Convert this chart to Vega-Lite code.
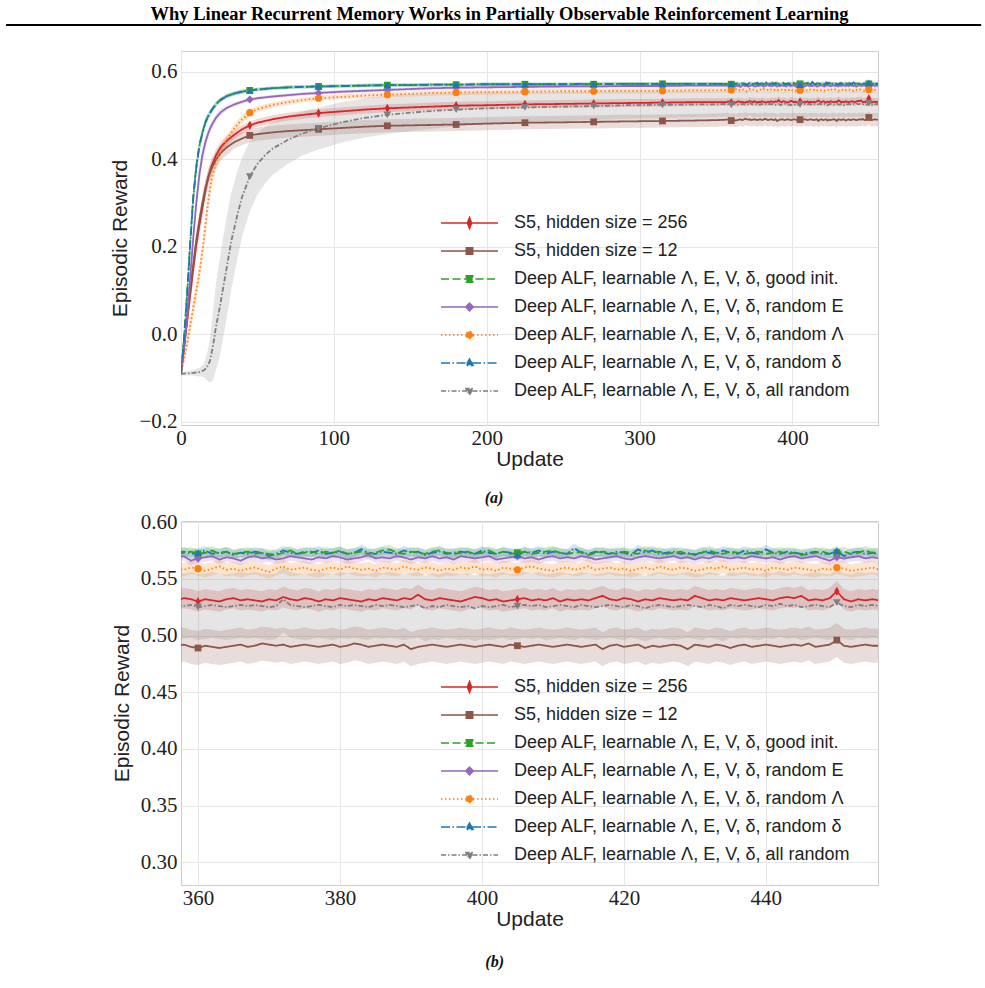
{
"$schema":"https://vega.github.io/schema/vega-lite/v6.json",
"padding":{"left":5,"top":5,"right":0,"bottom":0},
"background":"white",
"config":{
"view":{"stroke":"#cccccc","strokeWidth":1},
"axis":{"grid":true,"gridColor":"#e6e6e6","gridWidth":1,"domain":false,"ticks":false,"labelFont":"Liberation Serif","labelFontSize":21,"labelColor":"#222222","labelPadding":4,"labelFlush":false,"labelOverlap":false,"titleFont":"Liberation Sans","titleFontSize":21,"titleFontWeight":"normal","titleColor":"#222222"},
"axisX":{"titlePadding":0,"labelPadding":2},
"axisY":{"titlePadding":8},
"title":{"font":"Liberation Serif","fontSize":16,"fontStyle":"italic","fontWeight":"bold","color":"#111111"}
},
"datasets":{"d":[
{"u":0,"s":"r","m":-0.09,"e":0.004},{"u":2,"s":"r","m":-0.03,"e":0.015},{"u":4,"s":"r","m":0.03,"e":0.02},{"u":6,"s":"r","m":0.09,"e":0.025},{"u":8,"s":"r","m":0.15,"e":0.025},{"u":10,"s":"r","m":0.205,"e":0.025},{"u":12,"s":"r","m":0.25,"e":0.025},{"u":14,"s":"r","m":0.29,"e":0.022},{"u":16,"s":"r","m":0.33,"e":0.02},{"u":18,"s":"r","m":0.362,"e":0.018},{"u":20,"s":"r","m":0.385,"e":0.016},{"u":23,"s":"r","m":0.41,"e":0.014},{"u":26,"s":"r","m":0.428,"e":0.012},{"u":30,"s":"r","m":0.443,"e":0.011},{"u":35,"s":"r","m":0.457,"e":0.01},{"u":40,"s":"r","m":0.469,"e":0.01},{"u":45,"s":"r","m":0.478,"e":0.009},{"u":50,"s":"r","m":0.484,"e":0.009},{"u":60,"s":"r","m":0.492,"e":0.009},{"u":70,"s":"r","m":0.498,"e":0.009},{"u":80,"s":"r","m":0.502,"e":0.009},{"u":90,"s":"r","m":0.506,"e":0.009},{"u":105,"s":"r","m":0.51,"e":0.009},{"u":120,"s":"r","m":0.514,"e":0.009},{"u":135,"s":"r","m":0.517,"e":0.009},{"u":150,"s":"r","m":0.519,"e":0.009},{"u":165,"s":"r","m":0.521,"e":0.009},{"u":180,"s":"r","m":0.523,"e":0.009},{"u":200,"s":"r","m":0.524,"e":0.009},{"u":225,"s":"r","m":0.526,"e":0.009},{"u":250,"s":"r","m":0.527,"e":0.009},{"u":270,"s":"r","m":0.528,"e":0.009},{"u":290,"s":"r","m":0.529,"e":0.009},{"u":315,"s":"r","m":0.53,"e":0.009},{"u":335,"s":"r","m":0.531,"e":0.009},{"u":350,"s":"r","m":0.531,"e":0.009},
{"u":0,"s":"n","m":-0.09,"e":0.004},{"u":2,"s":"n","m":-0.03,"e":0.015},{"u":4,"s":"n","m":0.035,"e":0.02},{"u":6,"s":"n","m":0.1,"e":0.02},{"u":8,"s":"n","m":0.16,"e":0.02},{"u":10,"s":"n","m":0.215,"e":0.02},{"u":12,"s":"n","m":0.26,"e":0.02},{"u":14,"s":"n","m":0.3,"e":0.02},{"u":16,"s":"n","m":0.335,"e":0.02},{"u":18,"s":"n","m":0.36,"e":0.018},{"u":20,"s":"n","m":0.38,"e":0.018},{"u":23,"s":"n","m":0.4,"e":0.018},{"u":26,"s":"n","m":0.415,"e":0.018},{"u":30,"s":"n","m":0.428,"e":0.018},{"u":35,"s":"n","m":0.44,"e":0.015},{"u":40,"s":"n","m":0.448,"e":0.015},{"u":45,"s":"n","m":0.455,"e":0.015},{"u":50,"s":"n","m":0.458,"e":0.015},{"u":60,"s":"n","m":0.462,"e":0.015},{"u":70,"s":"n","m":0.465,"e":0.015},{"u":80,"s":"n","m":0.467,"e":0.015},{"u":90,"s":"n","m":0.469,"e":0.015},{"u":105,"s":"n","m":0.472,"e":0.015},{"u":120,"s":"n","m":0.475,"e":0.015},{"u":135,"s":"n","m":0.477,"e":0.015},{"u":150,"s":"n","m":0.478,"e":0.015},{"u":165,"s":"n","m":0.479,"e":0.015},{"u":180,"s":"n","m":0.48,"e":0.015},{"u":200,"s":"n","m":0.482,"e":0.015},{"u":225,"s":"n","m":0.484,"e":0.015},{"u":250,"s":"n","m":0.485,"e":0.015},{"u":270,"s":"n","m":0.486,"e":0.015},{"u":290,"s":"n","m":0.487,"e":0.015},{"u":315,"s":"n","m":0.488,"e":0.015},{"u":335,"s":"n","m":0.489,"e":0.015},{"u":350,"s":"n","m":0.49,"e":0.015},
{"u":0,"s":"g","m":-0.09,"e":0.003},{"u":2,"s":"g","m":-0.005,"e":0.015},{"u":4,"s":"g","m":0.095,"e":0.022},{"u":6,"s":"g","m":0.21,"e":0.025},{"u":8,"s":"g","m":0.315,"e":0.022},{"u":10,"s":"g","m":0.385,"e":0.018},{"u":12,"s":"g","m":0.432,"e":0.014},{"u":14,"s":"g","m":0.462,"e":0.011},{"u":16,"s":"g","m":0.486,"e":0.009},{"u":18,"s":"g","m":0.501,"e":0.008},{"u":20,"s":"g","m":0.513,"e":0.007},{"u":23,"s":"g","m":0.527,"e":0.006},{"u":26,"s":"g","m":0.537,"e":0.005},{"u":30,"s":"g","m":0.545,"e":0.005},{"u":35,"s":"g","m":0.551,"e":0.005},{"u":40,"s":"g","m":0.555,"e":0.005},{"u":45,"s":"g","m":0.558,"e":0.004},{"u":50,"s":"g","m":0.56,"e":0.004},{"u":60,"s":"g","m":0.563,"e":0.004},{"u":70,"s":"g","m":0.565,"e":0.004},{"u":80,"s":"g","m":0.566,"e":0.004},{"u":90,"s":"g","m":0.567,"e":0.004},{"u":105,"s":"g","m":0.568,"e":0.004},{"u":120,"s":"g","m":0.569,"e":0.004},{"u":135,"s":"g","m":0.57,"e":0.004},{"u":150,"s":"g","m":0.57,"e":0.004},{"u":165,"s":"g","m":0.571,"e":0.004},{"u":180,"s":"g","m":0.571,"e":0.004},{"u":200,"s":"g","m":0.572,"e":0.004},{"u":225,"s":"g","m":0.572,"e":0.004},{"u":250,"s":"g","m":0.572,"e":0.004},{"u":270,"s":"g","m":0.572,"e":0.004},{"u":290,"s":"g","m":0.573,"e":0.004},{"u":315,"s":"g","m":0.573,"e":0.004},{"u":335,"s":"g","m":0.573,"e":0.004},{"u":350,"s":"g","m":0.573,"e":0.004},
{"u":0,"s":"p","m":-0.09,"e":0.003},{"u":2,"s":"p","m":-0.03,"e":0.015},{"u":4,"s":"p","m":0.04,"e":0.022},{"u":6,"s":"p","m":0.13,"e":0.022},{"u":8,"s":"p","m":0.22,"e":0.022},{"u":10,"s":"p","m":0.3,"e":0.022},{"u":12,"s":"p","m":0.365,"e":0.022},{"u":14,"s":"p","m":0.41,"e":0.018},{"u":16,"s":"p","m":0.44,"e":0.015},{"u":18,"s":"p","m":0.462,"e":0.012},{"u":20,"s":"p","m":0.478,"e":0.01},{"u":23,"s":"p","m":0.496,"e":0.008},{"u":26,"s":"p","m":0.508,"e":0.007},{"u":30,"s":"p","m":0.518,"e":0.005},{"u":35,"s":"p","m":0.526,"e":0.005},{"u":40,"s":"p","m":0.532,"e":0.005},{"u":45,"s":"p","m":0.537,"e":0.004},{"u":50,"s":"p","m":0.54,"e":0.004},{"u":60,"s":"p","m":0.544,"e":0.004},{"u":70,"s":"p","m":0.547,"e":0.004},{"u":80,"s":"p","m":0.55,"e":0.004},{"u":90,"s":"p","m":0.552,"e":0.004},{"u":105,"s":"p","m":0.555,"e":0.004},{"u":120,"s":"p","m":0.557,"e":0.004},{"u":135,"s":"p","m":0.559,"e":0.004},{"u":150,"s":"p","m":0.561,"e":0.004},{"u":165,"s":"p","m":0.563,"e":0.004},{"u":180,"s":"p","m":0.564,"e":0.004},{"u":200,"s":"p","m":0.565,"e":0.004},{"u":225,"s":"p","m":0.566,"e":0.004},{"u":250,"s":"p","m":0.567,"e":0.004},{"u":270,"s":"p","m":0.567,"e":0.004},{"u":290,"s":"p","m":0.568,"e":0.004},{"u":315,"s":"p","m":0.568,"e":0.004},{"u":335,"s":"p","m":0.569,"e":0.004},{"u":350,"s":"p","m":0.569,"e":0.004},
{"u":0,"s":"o","m":-0.09,"e":0.003},{"u":2,"s":"o","m":-0.055,"e":0.01},{"u":4,"s":"o","m":-0.02,"e":0.02},{"u":6,"s":"o","m":0.02,"e":0.02},{"u":8,"s":"o","m":0.06,"e":0.02},{"u":10,"s":"o","m":0.1,"e":0.02},{"u":12,"s":"o","m":0.14,"e":0.02},{"u":14,"s":"o","m":0.19,"e":0.02},{"u":16,"s":"o","m":0.25,"e":0.025},{"u":18,"s":"o","m":0.31,"e":0.025},{"u":20,"s":"o","m":0.355,"e":0.022},{"u":23,"s":"o","m":0.395,"e":0.018},{"u":26,"s":"o","m":0.42,"e":0.015},{"u":30,"s":"o","m":0.445,"e":0.012},{"u":35,"s":"o","m":0.472,"e":0.01},{"u":40,"s":"o","m":0.492,"e":0.009},{"u":45,"s":"o","m":0.507,"e":0.008},{"u":50,"s":"o","m":0.515,"e":0.007},{"u":60,"s":"o","m":0.525,"e":0.006},{"u":70,"s":"o","m":0.531,"e":0.006},{"u":80,"s":"o","m":0.536,"e":0.006},{"u":90,"s":"o","m":0.54,"e":0.006},{"u":105,"s":"o","m":0.543,"e":0.006},{"u":120,"s":"o","m":0.546,"e":0.006},{"u":135,"s":"o","m":0.548,"e":0.006},{"u":150,"s":"o","m":0.55,"e":0.006},{"u":165,"s":"o","m":0.552,"e":0.006},{"u":180,"s":"o","m":0.553,"e":0.006},{"u":200,"s":"o","m":0.554,"e":0.006},{"u":225,"s":"o","m":0.555,"e":0.006},{"u":250,"s":"o","m":0.556,"e":0.006},{"u":270,"s":"o","m":0.556,"e":0.006},{"u":290,"s":"o","m":0.557,"e":0.006},{"u":315,"s":"o","m":0.557,"e":0.006},{"u":335,"s":"o","m":0.558,"e":0.006},{"u":350,"s":"o","m":0.558,"e":0.006},
{"u":0,"s":"b","m":-0.09,"e":0.003},{"u":2,"s":"b","m":-0.01,"e":0.015},{"u":4,"s":"b","m":0.09,"e":0.022},{"u":6,"s":"b","m":0.205,"e":0.025},{"u":8,"s":"b","m":0.31,"e":0.022},{"u":10,"s":"b","m":0.38,"e":0.018},{"u":12,"s":"b","m":0.43,"e":0.014},{"u":14,"s":"b","m":0.46,"e":0.011},{"u":16,"s":"b","m":0.485,"e":0.009},{"u":18,"s":"b","m":0.5,"e":0.008},{"u":20,"s":"b","m":0.512,"e":0.007},{"u":23,"s":"b","m":0.527,"e":0.006},{"u":26,"s":"b","m":0.536,"e":0.005},{"u":30,"s":"b","m":0.545,"e":0.005},{"u":35,"s":"b","m":0.551,"e":0.005},{"u":40,"s":"b","m":0.555,"e":0.005},{"u":45,"s":"b","m":0.558,"e":0.004},{"u":50,"s":"b","m":0.56,"e":0.004},{"u":60,"s":"b","m":0.563,"e":0.004},{"u":70,"s":"b","m":0.565,"e":0.004},{"u":80,"s":"b","m":0.566,"e":0.004},{"u":90,"s":"b","m":0.567,"e":0.004},{"u":105,"s":"b","m":0.568,"e":0.004},{"u":120,"s":"b","m":0.569,"e":0.004},{"u":135,"s":"b","m":0.57,"e":0.004},{"u":150,"s":"b","m":0.57,"e":0.004},{"u":165,"s":"b","m":0.571,"e":0.004},{"u":180,"s":"b","m":0.571,"e":0.004},{"u":200,"s":"b","m":0.572,"e":0.004},{"u":225,"s":"b","m":0.572,"e":0.004},{"u":250,"s":"b","m":0.572,"e":0.004},{"u":270,"s":"b","m":0.573,"e":0.004},{"u":290,"s":"b","m":0.573,"e":0.004},{"u":315,"s":"b","m":0.573,"e":0.004},{"u":335,"s":"b","m":0.573,"e":0.004},{"u":350,"s":"b","m":0.573,"e":0.004},
{"u":0,"s":"k","m":-0.09,"e":0.004},{"u":4,"s":"k","m":-0.089,"e":0.005},{"u":8,"s":"k","m":-0.088,"e":0.006},{"u":12,"s":"k","m":-0.086,"e":0.01},{"u":15,"s":"k","m":-0.082,"e":0.015},{"u":17,"s":"k","m":-0.075,"e":0.03},{"u":19,"s":"k","m":-0.06,"e":0.05},{"u":21,"s":"k","m":-0.025,"e":0.08},{"u":23,"s":"k","m":0.02,"e":0.1},{"u":25,"s":"k","m":0.055,"e":0.11},{"u":27,"s":"k","m":0.095,"e":0.115},{"u":29,"s":"k","m":0.135,"e":0.115},{"u":31,"s":"k","m":0.175,"e":0.115},{"u":33,"s":"k","m":0.215,"e":0.11},{"u":35,"s":"k","m":0.245,"e":0.105},{"u":37,"s":"k","m":0.275,"e":0.1},{"u":40,"s":"k","m":0.315,"e":0.09},{"u":45,"s":"k","m":0.361,"e":0.08},{"u":50,"s":"k","m":0.39,"e":0.07},{"u":55,"s":"k","m":0.41,"e":0.065},{"u":60,"s":"k","m":0.425,"e":0.06},{"u":70,"s":"k","m":0.445,"e":0.055},{"u":80,"s":"k","m":0.46,"e":0.05},{"u":90,"s":"k","m":0.471,"e":0.048},{"u":105,"s":"k","m":0.485,"e":0.046},{"u":120,"s":"k","m":0.495,"e":0.045},{"u":135,"s":"k","m":0.502,"e":0.044},{"u":150,"s":"k","m":0.507,"e":0.042},{"u":165,"s":"k","m":0.511,"e":0.04},{"u":180,"s":"k","m":0.514,"e":0.038},{"u":200,"s":"k","m":0.517,"e":0.036},{"u":225,"s":"k","m":0.519,"e":0.034},{"u":250,"s":"k","m":0.521,"e":0.033},{"u":270,"s":"k","m":0.522,"e":0.032},{"u":290,"s":"k","m":0.524,"e":0.031},{"u":315,"s":"k","m":0.525,"e":0.03},{"u":335,"s":"k","m":0.526,"e":0.03},{"u":350,"s":"k","m":0.526,"e":0.029},
{"u":357,"s":"b","m":0.573,"e":0.004},{"u":358,"s":"b","m":0.574,"e":0.004},{"u":359,"s":"b","m":0.572,"e":0.004},{"u":360,"s":"b","m":0.573,"e":0.004},{"u":361,"s":"b","m":0.575,"e":0.004},{"u":362,"s":"b","m":0.572,"e":0.004},{"u":363,"s":"b","m":0.573,"e":0.004},{"u":364,"s":"b","m":0.574,"e":0.004},{"u":365,"s":"b","m":0.571,"e":0.004},{"u":366,"s":"b","m":0.573,"e":0.004},
{"u":367,"s":"b","m":0.572,"e":0.004},{"u":368,"s":"b","m":0.574,"e":0.004},{"u":369,"s":"b","m":0.573,"e":0.004},{"u":370,"s":"b","m":0.57,"e":0.004},{"u":371,"s":"b","m":0.572,"e":0.004},{"u":372,"s":"b","m":0.575,"e":0.004},{"u":373,"s":"b","m":0.573,"e":0.004},{"u":374,"s":"b","m":0.572,"e":0.004},{"u":375,"s":"b","m":0.574,"e":0.004},{"u":376,"s":"b","m":0.573,"e":0.004},
{"u":377,"s":"b","m":0.575,"e":0.004},{"u":378,"s":"b","m":0.572,"e":0.004},{"u":379,"s":"b","m":0.573,"e":0.004},{"u":380,"s":"b","m":0.574,"e":0.004},{"u":381,"s":"b","m":0.572,"e":0.004},{"u":382,"s":"b","m":0.573,"e":0.004},{"u":383,"s":"b","m":0.576,"e":0.004},{"u":384,"s":"b","m":0.573,"e":0.004},{"u":385,"s":"b","m":0.572,"e":0.004},{"u":386,"s":"b","m":0.574,"e":0.004},
{"u":387,"s":"b","m":0.573,"e":0.004},{"u":388,"s":"b","m":0.572,"e":0.004},{"u":389,"s":"b","m":0.575,"e":0.004},{"u":390,"s":"b","m":0.573,"e":0.004},{"u":391,"s":"b","m":0.574,"e":0.004},{"u":392,"s":"b","m":0.571,"e":0.004},{"u":393,"s":"b","m":0.573,"e":0.004},{"u":394,"s":"b","m":0.574,"e":0.004},{"u":395,"s":"b","m":0.572,"e":0.004},{"u":396,"s":"b","m":0.573,"e":0.004},
{"u":397,"s":"b","m":0.574,"e":0.004},{"u":398,"s":"b","m":0.573,"e":0.004},{"u":399,"s":"b","m":0.572,"e":0.004},{"u":400,"s":"b","m":0.575,"e":0.004},{"u":401,"s":"b","m":0.573,"e":0.004},{"u":402,"s":"b","m":0.572,"e":0.004},{"u":403,"s":"b","m":0.574,"e":0.004},{"u":404,"s":"b","m":0.573,"e":0.004},{"u":405,"s":"b","m":0.571,"e":0.004},{"u":406,"s":"b","m":0.574,"e":0.004},
{"u":407,"s":"b","m":0.573,"e":0.004},{"u":408,"s":"b","m":0.575,"e":0.004},{"u":409,"s":"b","m":0.572,"e":0.004},{"u":410,"s":"b","m":0.574,"e":0.004},{"u":411,"s":"b","m":0.573,"e":0.004},{"u":412,"s":"b","m":0.572,"e":0.004},{"u":413,"s":"b","m":0.577,"e":0.004},{"u":414,"s":"b","m":0.573,"e":0.004},{"u":415,"s":"b","m":0.572,"e":0.004},{"u":416,"s":"b","m":0.574,"e":0.004},
{"u":417,"s":"b","m":0.573,"e":0.004},{"u":418,"s":"b","m":0.572,"e":0.004},{"u":419,"s":"b","m":0.574,"e":0.004},{"u":420,"s":"b","m":0.573,"e":0.004},{"u":421,"s":"b","m":0.571,"e":0.004},{"u":422,"s":"b","m":0.576,"e":0.004},{"u":423,"s":"b","m":0.573,"e":0.004},{"u":424,"s":"b","m":0.575,"e":0.004},{"u":425,"s":"b","m":0.572,"e":0.004},{"u":426,"s":"b","m":0.573,"e":0.004},
{"u":427,"s":"b","m":0.574,"e":0.004},{"u":428,"s":"b","m":0.572,"e":0.004},{"u":429,"s":"b","m":0.573,"e":0.004},{"u":430,"s":"b","m":0.571,"e":0.004},{"u":431,"s":"b","m":0.574,"e":0.004},{"u":432,"s":"b","m":0.573,"e":0.004},{"u":433,"s":"b","m":0.572,"e":0.004},{"u":434,"s":"b","m":0.575,"e":0.004},{"u":435,"s":"b","m":0.573,"e":0.004},{"u":436,"s":"b","m":0.572,"e":0.004},
{"u":437,"s":"b","m":0.575,"e":0.004},{"u":438,"s":"b","m":0.573,"e":0.004},{"u":439,"s":"b","m":0.572,"e":0.004},{"u":440,"s":"b","m":0.576,"e":0.004},{"u":441,"s":"b","m":0.573,"e":0.004},{"u":442,"s":"b","m":0.572,"e":0.004},{"u":443,"s":"b","m":0.574,"e":0.004},{"u":444,"s":"b","m":0.573,"e":0.004},{"u":445,"s":"b","m":0.572,"e":0.004},{"u":446,"s":"b","m":0.573,"e":0.004},
{"u":447,"s":"b","m":0.574,"e":0.004},{"u":448,"s":"b","m":0.572,"e":0.004},{"u":449,"s":"b","m":0.572,"e":0.004},{"u":450,"s":"b","m":0.575,"e":0.004},{"u":451,"s":"b","m":0.57,"e":0.004},{"u":452,"s":"b","m":0.573,"e":0.004},{"u":453,"s":"b","m":0.574,"e":0.004},{"u":454,"s":"b","m":0.572,"e":0.004},{"u":455,"s":"b","m":0.573,"e":0.004},{"u":456,"s":"b","m":0.572,"e":0.004},
{"u":357,"s":"g","m":0.572,"e":0.004},{"u":358,"s":"g","m":0.573,"e":0.004},{"u":359,"s":"g","m":0.574,"e":0.004},{"u":360,"s":"g","m":0.572,"e":0.004},{"u":361,"s":"g","m":0.573,"e":0.004},{"u":362,"s":"g","m":0.575,"e":0.004},{"u":363,"s":"g","m":0.572,"e":0.004},{"u":364,"s":"g","m":0.574,"e":0.004},{"u":365,"s":"g","m":0.572,"e":0.004},{"u":366,"s":"g","m":0.573,"e":0.004},
{"u":367,"s":"g","m":0.574,"e":0.004},{"u":368,"s":"g","m":0.572,"e":0.004},{"u":369,"s":"g","m":0.573,"e":0.004},{"u":370,"s":"g","m":0.572,"e":0.004},{"u":371,"s":"g","m":0.571,"e":0.004},{"u":372,"s":"g","m":0.573,"e":0.004},{"u":373,"s":"g","m":0.575,"e":0.004},{"u":374,"s":"g","m":0.572,"e":0.004},{"u":375,"s":"g","m":0.573,"e":0.004},{"u":376,"s":"g","m":0.574,"e":0.004},
{"u":377,"s":"g","m":0.572,"e":0.004},{"u":378,"s":"g","m":0.574,"e":0.004},{"u":379,"s":"g","m":0.573,"e":0.004},{"u":380,"s":"g","m":0.575,"e":0.004},{"u":381,"s":"g","m":0.572,"e":0.004},{"u":382,"s":"g","m":0.573,"e":0.004},{"u":383,"s":"g","m":0.574,"e":0.004},{"u":384,"s":"g","m":0.572,"e":0.004},{"u":385,"s":"g","m":0.573,"e":0.004},{"u":386,"s":"g","m":0.575,"e":0.004},
{"u":387,"s":"g","m":0.576,"e":0.004},{"u":388,"s":"g","m":0.573,"e":0.004},{"u":389,"s":"g","m":0.572,"e":0.004},{"u":390,"s":"g","m":0.574,"e":0.004},{"u":391,"s":"g","m":0.573,"e":0.004},{"u":392,"s":"g","m":0.572,"e":0.004},{"u":393,"s":"g","m":0.574,"e":0.004},{"u":394,"s":"g","m":0.575,"e":0.004},{"u":395,"s":"g","m":0.573,"e":0.004},{"u":396,"s":"g","m":0.572,"e":0.004},
{"u":397,"s":"g","m":0.573,"e":0.004},{"u":398,"s":"g","m":0.574,"e":0.004},{"u":399,"s":"g","m":0.572,"e":0.004},{"u":400,"s":"g","m":0.573,"e":0.004},{"u":401,"s":"g","m":0.575,"e":0.004},{"u":402,"s":"g","m":0.572,"e":0.004},{"u":403,"s":"g","m":0.574,"e":0.004},{"u":404,"s":"g","m":0.572,"e":0.004},{"u":405,"s":"g","m":0.573,"e":0.004},{"u":406,"s":"g","m":0.574,"e":0.004},
{"u":407,"s":"g","m":0.572,"e":0.004},{"u":408,"s":"g","m":0.573,"e":0.004},{"u":409,"s":"g","m":0.574,"e":0.004},{"u":410,"s":"g","m":0.575,"e":0.004},{"u":411,"s":"g","m":0.573,"e":0.004},{"u":412,"s":"g","m":0.572,"e":0.004},{"u":413,"s":"g","m":0.573,"e":0.004},{"u":414,"s":"g","m":0.574,"e":0.004},{"u":415,"s":"g","m":0.571,"e":0.004},{"u":416,"s":"g","m":0.573,"e":0.004},
{"u":417,"s":"g","m":0.574,"e":0.004},{"u":418,"s":"g","m":0.573,"e":0.004},{"u":419,"s":"g","m":0.572,"e":0.004},{"u":420,"s":"g","m":0.574,"e":0.004},{"u":421,"s":"g","m":0.573,"e":0.004},{"u":422,"s":"g","m":0.572,"e":0.004},{"u":423,"s":"g","m":0.575,"e":0.004},{"u":424,"s":"g","m":0.573,"e":0.004},{"u":425,"s":"g","m":0.574,"e":0.004},{"u":426,"s":"g","m":0.572,"e":0.004},
{"u":427,"s":"g","m":0.573,"e":0.004},{"u":428,"s":"g","m":0.574,"e":0.004},{"u":429,"s":"g","m":0.572,"e":0.004},{"u":430,"s":"g","m":0.572,"e":0.004},{"u":431,"s":"g","m":0.573,"e":0.004},{"u":432,"s":"g","m":0.575,"e":0.004},{"u":433,"s":"g","m":0.573,"e":0.004},{"u":434,"s":"g","m":0.572,"e":0.004},{"u":435,"s":"g","m":0.574,"e":0.004},{"u":436,"s":"g","m":0.573,"e":0.004},
{"u":437,"s":"g","m":0.572,"e":0.004},{"u":438,"s":"g","m":0.573,"e":0.004},{"u":439,"s":"g","m":0.574,"e":0.004},{"u":440,"s":"g","m":0.572,"e":0.004},{"u":441,"s":"g","m":0.573,"e":0.004},{"u":442,"s":"g","m":0.574,"e":0.004},{"u":443,"s":"g","m":0.572,"e":0.004},{"u":444,"s":"g","m":0.573,"e":0.004},{"u":445,"s":"g","m":0.571,"e":0.004},{"u":446,"s":"g","m":0.572,"e":0.004},
{"u":447,"s":"g","m":0.573,"e":0.004},{"u":448,"s":"g","m":0.574,"e":0.004},{"u":449,"s":"g","m":0.572,"e":0.004},{"u":450,"s":"g","m":0.573,"e":0.004},{"u":451,"s":"g","m":0.574,"e":0.004},{"u":452,"s":"g","m":0.572,"e":0.004},{"u":453,"s":"g","m":0.573,"e":0.004},{"u":454,"s":"g","m":0.575,"e":0.004},{"u":455,"s":"g","m":0.573,"e":0.004},{"u":456,"s":"g","m":0.574,"e":0.004},
{"u":357,"s":"p","m":0.569,"e":0.004},{"u":358,"s":"p","m":0.57,"e":0.004},{"u":359,"s":"p","m":0.566,"e":0.004},{"u":360,"s":"p","m":0.568,"e":0.004},{"u":361,"s":"p","m":0.569,"e":0.004},{"u":362,"s":"p","m":0.57,"e":0.004},{"u":363,"s":"p","m":0.567,"e":0.004},{"u":364,"s":"p","m":0.569,"e":0.004},{"u":365,"s":"p","m":0.568,"e":0.004},{"u":366,"s":"p","m":0.566,"e":0.004},
{"u":367,"s":"p","m":0.569,"e":0.004},{"u":368,"s":"p","m":0.57,"e":0.004},{"u":369,"s":"p","m":0.568,"e":0.004},{"u":370,"s":"p","m":0.569,"e":0.004},{"u":371,"s":"p","m":0.567,"e":0.004},{"u":372,"s":"p","m":0.568,"e":0.004},{"u":373,"s":"p","m":0.57,"e":0.004},{"u":374,"s":"p","m":0.569,"e":0.004},{"u":375,"s":"p","m":0.568,"e":0.004},{"u":376,"s":"p","m":0.567,"e":0.004},
{"u":377,"s":"p","m":0.569,"e":0.004},{"u":378,"s":"p","m":0.568,"e":0.004},{"u":379,"s":"p","m":0.57,"e":0.004},{"u":380,"s":"p","m":0.569,"e":0.004},{"u":381,"s":"p","m":0.567,"e":0.004},{"u":382,"s":"p","m":0.568,"e":0.004},{"u":383,"s":"p","m":0.569,"e":0.004},{"u":384,"s":"p","m":0.571,"e":0.004},{"u":385,"s":"p","m":0.568,"e":0.004},{"u":386,"s":"p","m":0.569,"e":0.004},
{"u":387,"s":"p","m":0.568,"e":0.004},{"u":388,"s":"p","m":0.57,"e":0.004},{"u":389,"s":"p","m":0.569,"e":0.004},{"u":390,"s":"p","m":0.567,"e":0.004},{"u":391,"s":"p","m":0.569,"e":0.004},{"u":392,"s":"p","m":0.568,"e":0.004},{"u":393,"s":"p","m":0.57,"e":0.004},{"u":394,"s":"p","m":0.568,"e":0.004},{"u":395,"s":"p","m":0.569,"e":0.004},{"u":396,"s":"p","m":0.567,"e":0.004},
{"u":397,"s":"p","m":0.57,"e":0.004},{"u":398,"s":"p","m":0.569,"e":0.004},{"u":399,"s":"p","m":0.568,"e":0.004},{"u":400,"s":"p","m":0.569,"e":0.004},{"u":401,"s":"p","m":0.57,"e":0.004},{"u":402,"s":"p","m":0.567,"e":0.004},{"u":403,"s":"p","m":0.568,"e":0.004},{"u":404,"s":"p","m":0.569,"e":0.004},{"u":405,"s":"p","m":0.57,"e":0.004},{"u":406,"s":"p","m":0.568,"e":0.004},
{"u":407,"s":"p","m":0.569,"e":0.004},{"u":408,"s":"p","m":0.567,"e":0.004},{"u":409,"s":"p","m":0.569,"e":0.004},{"u":410,"s":"p","m":0.57,"e":0.004},{"u":411,"s":"p","m":0.568,"e":0.004},{"u":412,"s":"p","m":0.569,"e":0.004},{"u":413,"s":"p","m":0.568,"e":0.004},{"u":414,"s":"p","m":0.57,"e":0.004},{"u":415,"s":"p","m":0.569,"e":0.004},{"u":416,"s":"p","m":0.567,"e":0.004},
{"u":417,"s":"p","m":0.568,"e":0.004},{"u":418,"s":"p","m":0.569,"e":0.004},{"u":419,"s":"p","m":0.57,"e":0.004},{"u":420,"s":"p","m":0.568,"e":0.004},{"u":421,"s":"p","m":0.567,"e":0.004},{"u":422,"s":"p","m":0.569,"e":0.004},{"u":423,"s":"p","m":0.57,"e":0.004},{"u":424,"s":"p","m":0.569,"e":0.004},{"u":425,"s":"p","m":0.568,"e":0.004},{"u":426,"s":"p","m":0.569,"e":0.004},
{"u":427,"s":"p","m":0.57,"e":0.004},{"u":428,"s":"p","m":0.568,"e":0.004},{"u":429,"s":"p","m":0.569,"e":0.004},{"u":430,"s":"p","m":0.567,"e":0.004},{"u":431,"s":"p","m":0.569,"e":0.004},{"u":432,"s":"p","m":0.568,"e":0.004},{"u":433,"s":"p","m":0.57,"e":0.004},{"u":434,"s":"p","m":0.569,"e":0.004},{"u":435,"s":"p","m":0.568,"e":0.004},{"u":436,"s":"p","m":0.569,"e":0.004},
{"u":437,"s":"p","m":0.568,"e":0.004},{"u":438,"s":"p","m":0.57,"e":0.004},{"u":439,"s":"p","m":0.569,"e":0.004},{"u":440,"s":"p","m":0.568,"e":0.004},{"u":441,"s":"p","m":0.569,"e":0.004},{"u":442,"s":"p","m":0.567,"e":0.004},{"u":443,"s":"p","m":0.569,"e":0.004},{"u":444,"s":"p","m":0.57,"e":0.004},{"u":445,"s":"p","m":0.568,"e":0.004},{"u":446,"s":"p","m":0.569,"e":0.004},
{"u":447,"s":"p","m":0.57,"e":0.004},{"u":448,"s":"p","m":0.568,"e":0.004},{"u":449,"s":"p","m":0.566,"e":0.004},{"u":450,"s":"p","m":0.569,"e":0.004},{"u":451,"s":"p","m":0.568,"e":0.004},{"u":452,"s":"p","m":0.569,"e":0.004},{"u":453,"s":"p","m":0.57,"e":0.004},{"u":454,"s":"p","m":0.568,"e":0.004},{"u":455,"s":"p","m":0.569,"e":0.004},{"u":456,"s":"p","m":0.568,"e":0.004},
{"u":357,"s":"o","m":0.559,"e":0.006},{"u":358,"s":"o","m":0.558,"e":0.006},{"u":359,"s":"o","m":0.56,"e":0.006},{"u":360,"s":"o","m":0.559,"e":0.006},{"u":361,"s":"o","m":0.557,"e":0.006},{"u":362,"s":"o","m":0.559,"e":0.006},{"u":363,"s":"o","m":0.561,"e":0.006},{"u":364,"s":"o","m":0.558,"e":0.006},{"u":365,"s":"o","m":0.559,"e":0.006},{"u":366,"s":"o","m":0.557,"e":0.006},
{"u":367,"s":"o","m":0.559,"e":0.006},{"u":368,"s":"o","m":0.56,"e":0.006},{"u":369,"s":"o","m":0.558,"e":0.006},{"u":370,"s":"o","m":0.556,"e":0.006},{"u":371,"s":"o","m":0.559,"e":0.006},{"u":372,"s":"o","m":0.561,"e":0.006},{"u":373,"s":"o","m":0.558,"e":0.006},{"u":374,"s":"o","m":0.559,"e":0.006},{"u":375,"s":"o","m":0.56,"e":0.006},{"u":376,"s":"o","m":0.558,"e":0.006},
{"u":377,"s":"o","m":0.557,"e":0.006},{"u":378,"s":"o","m":0.559,"e":0.006},{"u":379,"s":"o","m":0.56,"e":0.006},{"u":380,"s":"o","m":0.558,"e":0.006},{"u":381,"s":"o","m":0.561,"e":0.006},{"u":382,"s":"o","m":0.559,"e":0.006},{"u":383,"s":"o","m":0.558,"e":0.006},{"u":384,"s":"o","m":0.559,"e":0.006},{"u":385,"s":"o","m":0.557,"e":0.006},{"u":386,"s":"o","m":0.56,"e":0.006},
{"u":387,"s":"o","m":0.559,"e":0.006},{"u":388,"s":"o","m":0.558,"e":0.006},{"u":389,"s":"o","m":0.561,"e":0.006},{"u":390,"s":"o","m":0.559,"e":0.006},{"u":391,"s":"o","m":0.558,"e":0.006},{"u":392,"s":"o","m":0.56,"e":0.006},{"u":393,"s":"o","m":0.559,"e":0.006},{"u":394,"s":"o","m":0.557,"e":0.006},{"u":395,"s":"o","m":0.559,"e":0.006},{"u":396,"s":"o","m":0.558,"e":0.006},
{"u":397,"s":"o","m":0.56,"e":0.006},{"u":398,"s":"o","m":0.559,"e":0.006},{"u":399,"s":"o","m":0.561,"e":0.006},{"u":400,"s":"o","m":0.558,"e":0.006},{"u":401,"s":"o","m":0.559,"e":0.006},{"u":402,"s":"o","m":0.557,"e":0.006},{"u":403,"s":"o","m":0.56,"e":0.006},{"u":404,"s":"o","m":0.559,"e":0.006},{"u":405,"s":"o","m":0.558,"e":0.006},{"u":406,"s":"o","m":0.56,"e":0.006},
{"u":407,"s":"o","m":0.561,"e":0.006},{"u":408,"s":"o","m":0.559,"e":0.006},{"u":409,"s":"o","m":0.558,"e":0.006},{"u":410,"s":"o","m":0.557,"e":0.006},{"u":411,"s":"o","m":0.559,"e":0.006},{"u":412,"s":"o","m":0.56,"e":0.006},{"u":413,"s":"o","m":0.558,"e":0.006},{"u":414,"s":"o","m":0.559,"e":0.006},{"u":415,"s":"o","m":0.561,"e":0.006},{"u":416,"s":"o","m":0.558,"e":0.006},
{"u":417,"s":"o","m":0.559,"e":0.006},{"u":418,"s":"o","m":0.56,"e":0.006},{"u":419,"s":"o","m":0.558,"e":0.006},{"u":420,"s":"o","m":0.559,"e":0.006},{"u":421,"s":"o","m":0.557,"e":0.006},{"u":422,"s":"o","m":0.559,"e":0.006},{"u":423,"s":"o","m":0.56,"e":0.006},{"u":424,"s":"o","m":0.558,"e":0.006},{"u":425,"s":"o","m":0.561,"e":0.006},{"u":426,"s":"o","m":0.559,"e":0.006},
{"u":427,"s":"o","m":0.558,"e":0.006},{"u":428,"s":"o","m":0.56,"e":0.006},{"u":429,"s":"o","m":0.559,"e":0.006},{"u":430,"s":"o","m":0.557,"e":0.006},{"u":431,"s":"o","m":0.558,"e":0.006},{"u":432,"s":"o","m":0.56,"e":0.006},{"u":433,"s":"o","m":0.559,"e":0.006},{"u":434,"s":"o","m":0.561,"e":0.006},{"u":435,"s":"o","m":0.558,"e":0.006},{"u":436,"s":"o","m":0.559,"e":0.006},
{"u":437,"s":"o","m":0.56,"e":0.006},{"u":438,"s":"o","m":0.558,"e":0.006},{"u":439,"s":"o","m":0.559,"e":0.006},{"u":440,"s":"o","m":0.557,"e":0.006},{"u":441,"s":"o","m":0.56,"e":0.006},{"u":442,"s":"o","m":0.559,"e":0.006},{"u":443,"s":"o","m":0.558,"e":0.006},{"u":444,"s":"o","m":0.56,"e":0.006},{"u":445,"s":"o","m":0.559,"e":0.006},{"u":446,"s":"o","m":0.558,"e":0.006},
{"u":447,"s":"o","m":0.557,"e":0.006},{"u":448,"s":"o","m":0.559,"e":0.006},{"u":449,"s":"o","m":0.558,"e":0.006},{"u":450,"s":"o","m":0.56,"e":0.006},{"u":451,"s":"o","m":0.559,"e":0.006},{"u":452,"s":"o","m":0.557,"e":0.006},{"u":453,"s":"o","m":0.558,"e":0.006},{"u":454,"s":"o","m":0.559,"e":0.006},{"u":455,"s":"o","m":0.56,"e":0.006},{"u":456,"s":"o","m":0.558,"e":0.006},
{"u":357,"s":"r","m":0.531,"e":0.009},{"u":358,"s":"r","m":0.533,"e":0.009},{"u":359,"s":"r","m":0.532,"e":0.009},{"u":360,"s":"r","m":0.53,"e":0.009},{"u":361,"s":"r","m":0.532,"e":0.009},{"u":362,"s":"r","m":0.531,"e":0.009},{"u":363,"s":"r","m":0.53,"e":0.009},{"u":364,"s":"r","m":0.532,"e":0.009},{"u":365,"s":"r","m":0.533,"e":0.009},{"u":366,"s":"r","m":0.531,"e":0.009},
{"u":367,"s":"r","m":0.532,"e":0.009},{"u":368,"s":"r","m":0.531,"e":0.009},{"u":369,"s":"r","m":0.53,"e":0.009},{"u":370,"s":"r","m":0.532,"e":0.009},{"u":371,"s":"r","m":0.531,"e":0.009},{"u":372,"s":"r","m":0.534,"e":0.009},{"u":373,"s":"r","m":0.532,"e":0.009},{"u":374,"s":"r","m":0.531,"e":0.009},{"u":375,"s":"r","m":0.533,"e":0.009},{"u":376,"s":"r","m":0.532,"e":0.009},
{"u":377,"s":"r","m":0.53,"e":0.009},{"u":378,"s":"r","m":0.532,"e":0.009},{"u":379,"s":"r","m":0.531,"e":0.009},{"u":380,"s":"r","m":0.533,"e":0.009},{"u":381,"s":"r","m":0.532,"e":0.009},{"u":382,"s":"r","m":0.531,"e":0.009},{"u":383,"s":"r","m":0.53,"e":0.009},{"u":384,"s":"r","m":0.532,"e":0.009},{"u":385,"s":"r","m":0.531,"e":0.009},{"u":386,"s":"r","m":0.533,"e":0.009},
{"u":387,"s":"r","m":0.532,"e":0.009},{"u":388,"s":"r","m":0.531,"e":0.009},{"u":389,"s":"r","m":0.533,"e":0.009},{"u":390,"s":"r","m":0.532,"e":0.009},{"u":391,"s":"r","m":0.536,"e":0.009},{"u":392,"s":"r","m":0.532,"e":0.009},{"u":393,"s":"r","m":0.531,"e":0.009},{"u":394,"s":"r","m":0.533,"e":0.009},{"u":395,"s":"r","m":0.532,"e":0.009},{"u":396,"s":"r","m":0.531,"e":0.009},
{"u":397,"s":"r","m":0.53,"e":0.009},{"u":398,"s":"r","m":0.532,"e":0.009},{"u":399,"s":"r","m":0.534,"e":0.009},{"u":400,"s":"r","m":0.533,"e":0.009},{"u":401,"s":"r","m":0.531,"e":0.009},{"u":402,"s":"r","m":0.532,"e":0.009},{"u":403,"s":"r","m":0.53,"e":0.009},{"u":404,"s":"r","m":0.531,"e":0.009},{"u":405,"s":"r","m":0.532,"e":0.009},{"u":406,"s":"r","m":0.533,"e":0.009},
{"u":407,"s":"r","m":0.531,"e":0.009},{"u":408,"s":"r","m":0.532,"e":0.009},{"u":409,"s":"r","m":0.531,"e":0.009},{"u":410,"s":"r","m":0.533,"e":0.009},{"u":411,"s":"r","m":0.53,"e":0.009},{"u":412,"s":"r","m":0.532,"e":0.009},{"u":413,"s":"r","m":0.531,"e":0.009},{"u":414,"s":"r","m":0.532,"e":0.009},{"u":415,"s":"r","m":0.531,"e":0.009},{"u":416,"s":"r","m":0.533,"e":0.009},
{"u":417,"s":"r","m":0.535,"e":0.009},{"u":418,"s":"r","m":0.532,"e":0.009},{"u":419,"s":"r","m":0.531,"e":0.009},{"u":420,"s":"r","m":0.533,"e":0.009},{"u":421,"s":"r","m":0.532,"e":0.009},{"u":422,"s":"r","m":0.53,"e":0.009},{"u":423,"s":"r","m":0.532,"e":0.009},{"u":424,"s":"r","m":0.531,"e":0.009},{"u":425,"s":"r","m":0.533,"e":0.009},{"u":426,"s":"r","m":0.532,"e":0.009},
{"u":427,"s":"r","m":0.531,"e":0.009},{"u":428,"s":"r","m":0.532,"e":0.009},{"u":429,"s":"r","m":0.531,"e":0.009},{"u":430,"s":"r","m":0.535,"e":0.009},{"u":431,"s":"r","m":0.533,"e":0.009},{"u":432,"s":"r","m":0.531,"e":0.009},{"u":433,"s":"r","m":0.532,"e":0.009},{"u":434,"s":"r","m":0.531,"e":0.009},{"u":435,"s":"r","m":0.533,"e":0.009},{"u":436,"s":"r","m":0.532,"e":0.009},
{"u":437,"s":"r","m":0.531,"e":0.009},{"u":438,"s":"r","m":0.532,"e":0.009},{"u":439,"s":"r","m":0.533,"e":0.009},{"u":440,"s":"r","m":0.532,"e":0.009},{"u":441,"s":"r","m":0.531,"e":0.009},{"u":442,"s":"r","m":0.533,"e":0.009},{"u":443,"s":"r","m":0.534,"e":0.009},{"u":444,"s":"r","m":0.533,"e":0.009},{"u":445,"s":"r","m":0.535,"e":0.009},{"u":446,"s":"r","m":0.531,"e":0.009},
{"u":447,"s":"r","m":0.532,"e":0.009},{"u":448,"s":"r","m":0.531,"e":0.009},{"u":449,"s":"r","m":0.533,"e":0.009},{"u":450,"s":"r","m":0.539,"e":0.009},{"u":451,"s":"r","m":0.532,"e":0.009},{"u":452,"s":"r","m":0.53,"e":0.009},{"u":453,"s":"r","m":0.532,"e":0.009},{"u":454,"s":"r","m":0.531,"e":0.009},{"u":455,"s":"r","m":0.532,"e":0.009},{"u":456,"s":"r","m":0.531,"e":0.009},
{"u":357,"s":"k","m":0.527,"e":0.029},{"u":358,"s":"k","m":0.526,"e":0.029},{"u":359,"s":"k","m":0.527,"e":0.029},{"u":360,"s":"k","m":0.525,"e":0.029},{"u":361,"s":"k","m":0.526,"e":0.029},{"u":362,"s":"k","m":0.527,"e":0.029},{"u":363,"s":"k","m":0.526,"e":0.029},{"u":364,"s":"k","m":0.525,"e":0.029},{"u":365,"s":"k","m":0.526,"e":0.029},{"u":366,"s":"k","m":0.527,"e":0.029},
{"u":367,"s":"k","m":0.526,"e":0.029},{"u":368,"s":"k","m":0.527,"e":0.029},{"u":369,"s":"k","m":0.526,"e":0.029},{"u":370,"s":"k","m":0.525,"e":0.029},{"u":371,"s":"k","m":0.526,"e":0.029},{"u":372,"s":"k","m":0.532,"e":0.029},{"u":373,"s":"k","m":0.527,"e":0.029},{"u":374,"s":"k","m":0.526,"e":0.029},{"u":375,"s":"k","m":0.525,"e":0.029},{"u":376,"s":"k","m":0.526,"e":0.029},
{"u":377,"s":"k","m":0.527,"e":0.029},{"u":378,"s":"k","m":0.526,"e":0.029},{"u":379,"s":"k","m":0.525,"e":0.029},{"u":380,"s":"k","m":0.527,"e":0.029},{"u":381,"s":"k","m":0.526,"e":0.029},{"u":382,"s":"k","m":0.527,"e":0.029},{"u":383,"s":"k","m":0.526,"e":0.029},{"u":384,"s":"k","m":0.525,"e":0.029},{"u":385,"s":"k","m":0.527,"e":0.029},{"u":386,"s":"k","m":0.526,"e":0.029},
{"u":387,"s":"k","m":0.527,"e":0.029},{"u":388,"s":"k","m":0.526,"e":0.029},{"u":389,"s":"k","m":0.525,"e":0.029},{"u":390,"s":"k","m":0.526,"e":0.029},{"u":391,"s":"k","m":0.527,"e":0.029},{"u":392,"s":"k","m":0.524,"e":0.029},{"u":393,"s":"k","m":0.526,"e":0.029},{"u":394,"s":"k","m":0.525,"e":0.029},{"u":395,"s":"k","m":0.527,"e":0.029},{"u":396,"s":"k","m":0.526,"e":0.029},
{"u":397,"s":"k","m":0.525,"e":0.029},{"u":398,"s":"k","m":0.526,"e":0.029},{"u":399,"s":"k","m":0.524,"e":0.029},{"u":400,"s":"k","m":0.526,"e":0.029},{"u":401,"s":"k","m":0.525,"e":0.029},{"u":402,"s":"k","m":0.526,"e":0.029},{"u":403,"s":"k","m":0.527,"e":0.029},{"u":404,"s":"k","m":0.525,"e":0.029},{"u":405,"s":"k","m":0.526,"e":0.029},{"u":406,"s":"k","m":0.527,"e":0.029},
{"u":407,"s":"k","m":0.526,"e":0.029},{"u":408,"s":"k","m":0.527,"e":0.029},{"u":409,"s":"k","m":0.525,"e":0.029},{"u":410,"s":"k","m":0.526,"e":0.029},{"u":411,"s":"k","m":0.527,"e":0.029},{"u":412,"s":"k","m":0.526,"e":0.029},{"u":413,"s":"k","m":0.525,"e":0.029},{"u":414,"s":"k","m":0.527,"e":0.029},{"u":415,"s":"k","m":0.526,"e":0.029},{"u":416,"s":"k","m":0.525,"e":0.029},
{"u":417,"s":"k","m":0.526,"e":0.029},{"u":418,"s":"k","m":0.527,"e":0.029},{"u":419,"s":"k","m":0.526,"e":0.029},{"u":420,"s":"k","m":0.525,"e":0.029},{"u":421,"s":"k","m":0.527,"e":0.029},{"u":422,"s":"k","m":0.526,"e":0.029},{"u":423,"s":"k","m":0.524,"e":0.029},{"u":424,"s":"k","m":0.526,"e":0.029},{"u":425,"s":"k","m":0.527,"e":0.029},{"u":426,"s":"k","m":0.526,"e":0.029},
{"u":427,"s":"k","m":0.525,"e":0.029},{"u":428,"s":"k","m":0.526,"e":0.029},{"u":429,"s":"k","m":0.527,"e":0.029},{"u":430,"s":"k","m":0.526,"e":0.029},{"u":431,"s":"k","m":0.525,"e":0.029},{"u":432,"s":"k","m":0.527,"e":0.029},{"u":433,"s":"k","m":0.526,"e":0.029},{"u":434,"s":"k","m":0.524,"e":0.029},{"u":435,"s":"k","m":0.527,"e":0.029},{"u":436,"s":"k","m":0.526,"e":0.029},
{"u":437,"s":"k","m":0.527,"e":0.029},{"u":438,"s":"k","m":0.526,"e":0.029},{"u":439,"s":"k","m":0.525,"e":0.029},{"u":440,"s":"k","m":0.527,"e":0.029},{"u":441,"s":"k","m":0.526,"e":0.029},{"u":442,"s":"k","m":0.528,"e":0.029},{"u":443,"s":"k","m":0.526,"e":0.029},{"u":444,"s":"k","m":0.527,"e":0.029},{"u":445,"s":"k","m":0.525,"e":0.029},{"u":446,"s":"k","m":0.526,"e":0.029},
{"u":447,"s":"k","m":0.527,"e":0.029},{"u":448,"s":"k","m":0.526,"e":0.029},{"u":449,"s":"k","m":0.525,"e":0.029},{"u":450,"s":"k","m":0.529,"e":0.029},{"u":451,"s":"k","m":0.526,"e":0.029},{"u":452,"s":"k","m":0.525,"e":0.029},{"u":453,"s":"k","m":0.527,"e":0.029},{"u":454,"s":"k","m":0.526,"e":0.029},{"u":455,"s":"k","m":0.527,"e":0.029},{"u":456,"s":"k","m":0.526,"e":0.029},
{"u":357,"s":"n","m":0.491,"e":0.015},{"u":358,"s":"n","m":0.492,"e":0.015},{"u":359,"s":"n","m":0.49,"e":0.015},{"u":360,"s":"n","m":0.489,"e":0.015},{"u":361,"s":"n","m":0.491,"e":0.015},{"u":362,"s":"n","m":0.49,"e":0.015},{"u":363,"s":"n","m":0.489,"e":0.015},{"u":364,"s":"n","m":0.49,"e":0.015},{"u":365,"s":"n","m":0.491,"e":0.015},{"u":366,"s":"n","m":0.492,"e":0.015},
{"u":367,"s":"n","m":0.49,"e":0.015},{"u":368,"s":"n","m":0.491,"e":0.015},{"u":369,"s":"n","m":0.493,"e":0.015},{"u":370,"s":"n","m":0.492,"e":0.015},{"u":371,"s":"n","m":0.491,"e":0.015},{"u":372,"s":"n","m":0.492,"e":0.015},{"u":373,"s":"n","m":0.49,"e":0.015},{"u":374,"s":"n","m":0.491,"e":0.015},{"u":375,"s":"n","m":0.492,"e":0.015},{"u":376,"s":"n","m":0.491,"e":0.015},
{"u":377,"s":"n","m":0.49,"e":0.015},{"u":378,"s":"n","m":0.491,"e":0.015},{"u":379,"s":"n","m":0.492,"e":0.015},{"u":380,"s":"n","m":0.49,"e":0.015},{"u":381,"s":"n","m":0.491,"e":0.015},{"u":382,"s":"n","m":0.493,"e":0.015},{"u":383,"s":"n","m":0.492,"e":0.015},{"u":384,"s":"n","m":0.49,"e":0.015},{"u":385,"s":"n","m":0.491,"e":0.015},{"u":386,"s":"n","m":0.492,"e":0.015},
{"u":387,"s":"n","m":0.491,"e":0.015},{"u":388,"s":"n","m":0.49,"e":0.015},{"u":389,"s":"n","m":0.492,"e":0.015},{"u":390,"s":"n","m":0.488,"e":0.015},{"u":391,"s":"n","m":0.49,"e":0.015},{"u":392,"s":"n","m":0.491,"e":0.015},{"u":393,"s":"n","m":0.492,"e":0.015},{"u":394,"s":"n","m":0.491,"e":0.015},{"u":395,"s":"n","m":0.49,"e":0.015},{"u":396,"s":"n","m":0.491,"e":0.015},
{"u":397,"s":"n","m":0.492,"e":0.015},{"u":398,"s":"n","m":0.491,"e":0.015},{"u":399,"s":"n","m":0.49,"e":0.015},{"u":400,"s":"n","m":0.491,"e":0.015},{"u":401,"s":"n","m":0.492,"e":0.015},{"u":402,"s":"n","m":0.491,"e":0.015},{"u":403,"s":"n","m":0.49,"e":0.015},{"u":404,"s":"n","m":0.492,"e":0.015},{"u":405,"s":"n","m":0.491,"e":0.015},{"u":406,"s":"n","m":0.49,"e":0.015},
{"u":407,"s":"n","m":0.491,"e":0.015},{"u":408,"s":"n","m":0.492,"e":0.015},{"u":409,"s":"n","m":0.491,"e":0.015},{"u":410,"s":"n","m":0.49,"e":0.015},{"u":411,"s":"n","m":0.491,"e":0.015},{"u":412,"s":"n","m":0.492,"e":0.015},{"u":413,"s":"n","m":0.491,"e":0.015},{"u":414,"s":"n","m":0.49,"e":0.015},{"u":415,"s":"n","m":0.491,"e":0.015},{"u":416,"s":"n","m":0.492,"e":0.015},
{"u":417,"s":"n","m":0.488,"e":0.015},{"u":418,"s":"n","m":0.491,"e":0.015},{"u":419,"s":"n","m":0.492,"e":0.015},{"u":420,"s":"n","m":0.49,"e":0.015},{"u":421,"s":"n","m":0.491,"e":0.015},{"u":422,"s":"n","m":0.492,"e":0.015},{"u":423,"s":"n","m":0.489,"e":0.015},{"u":424,"s":"n","m":0.491,"e":0.015},{"u":425,"s":"n","m":0.49,"e":0.015},{"u":426,"s":"n","m":0.491,"e":0.015},
{"u":427,"s":"n","m":0.492,"e":0.015},{"u":428,"s":"n","m":0.491,"e":0.015},{"u":429,"s":"n","m":0.488,"e":0.015},{"u":430,"s":"n","m":0.492,"e":0.015},{"u":431,"s":"n","m":0.491,"e":0.015},{"u":432,"s":"n","m":0.49,"e":0.015},{"u":433,"s":"n","m":0.492,"e":0.015},{"u":434,"s":"n","m":0.491,"e":0.015},{"u":435,"s":"n","m":0.489,"e":0.015},{"u":436,"s":"n","m":0.491,"e":0.015},
{"u":437,"s":"n","m":0.492,"e":0.015},{"u":438,"s":"n","m":0.49,"e":0.015},{"u":439,"s":"n","m":0.491,"e":0.015},{"u":440,"s":"n","m":0.492,"e":0.015},{"u":441,"s":"n","m":0.491,"e":0.015},{"u":442,"s":"n","m":0.49,"e":0.015},{"u":443,"s":"n","m":0.491,"e":0.015},{"u":444,"s":"n","m":0.492,"e":0.015},{"u":445,"s":"n","m":0.491,"e":0.015},{"u":446,"s":"n","m":0.493,"e":0.015},
{"u":447,"s":"n","m":0.49,"e":0.015},{"u":448,"s":"n","m":0.491,"e":0.015},{"u":449,"s":"n","m":0.492,"e":0.015},{"u":450,"s":"n","m":0.496,"e":0.015},{"u":451,"s":"n","m":0.491,"e":0.015},{"u":452,"s":"n","m":0.49,"e":0.015},{"u":453,"s":"n","m":0.491,"e":0.015},{"u":454,"s":"n","m":0.492,"e":0.015},{"u":455,"s":"n","m":0.491,"e":0.015},{"u":456,"s":"n","m":0.491,"e":0.015}
],
"h":[{"t":"Why Linear Recurrent Memory Works in Partially Observable Reinforcement Learning"}]},
"spacing":24,
"vconcat":[
{"width":697,"height":11,"view":{"stroke":null},"data":{"name":"h"},
"layer":[
{"mark":{"type":"rule","strokeWidth":1.8,"color":"#000000"},"encoding":{"x":{"datum":-0.251,"type":"quantitative","scale":{"domain":[0,1],"nice":false,"zero":false},"axis":null},"x2":{"datum":1.148},"y":{"datum":0,"type":"quantitative","scale":{"domain":[0,1],"nice":false,"zero":false},"axis":null}}},
{"mark":{"type":"text","font":"Liberation Serif","fontWeight":"bold","fontSize":18.5,"baseline":"middle","align":"center","color":"#000000"},"encoding":{"x":{"datum":0.457,"type":"quantitative"},"y":{"datum":1,"type":"quantitative"},"text":{"field":"t"}}}
]},
{"spacing":3,
"resolve":{"scale":{"color":"independent","fill":"independent","stroke":"independent","shape":"independent","strokeDash":"independent"},"legend":{"color":"independent","fill":"independent","stroke":"independent","shape":"independent","strokeDash":"independent"}},
"vconcat":[
{"width":697,"height":374,
"title":{"text":"(a)","orient":"bottom","frame":"bounds","anchor":"middle","offset":21},
"data":{"name":"d"},
"encoding":{
"x":{"field":"u","type":"quantitative","scale":{"domain":[0,456],"nice":false,"zero":false},"axis":{"values":[0,100,200,300,400],"title":"Update","labelFont":"Liberation Serif"}},
"y":{"field":"m","type":"quantitative","scale":{"domain":[-0.207,0.648],"nice":false,"zero":false},"axis":{"values":[-0.2,0,0.2,0.4,0.6],"format":".1f","title":"Episodic Reward","labelFont":"Liberation Serif"}}},
"layer":[
{"transform":[{"filter":"false"}],"mark":{"type":"point","filled":true,"opacity":1},"encoding":{
"fill":{"field":"s","type":"nominal","scale":{"domain":["r","n","g","p","o","b","k"],"range":["#d62728","#8c564b","#2ca02c","#9467bd","#ff7f0e","#1f77b4","#7f7f7f"]},"legend":{"orient":"none","legendX":259,"legendY":158,"title":null,"padding":0,"symbolSize":3249,"clipHeight":28,"rowPadding":0,"labelOffset":15,"labelFont":"Liberation Sans","labelFontSize":18,"labelColor":"#222222","labelLimit":0,"symbolStrokeWidth":1.7,"symbolOpacity":1,"labelExpr":"datum.value=='r'?'S5, hidden size = 256':datum.value=='n'?'S5, hidden size = 12':datum.value=='g'?'Deep ALF, learnable Λ, E, V, δ, good init.':datum.value=='p'?'Deep ALF, learnable Λ, E, V, δ, random E':datum.value=='o'?'Deep ALF, learnable Λ, E, V, δ, random Λ':datum.value=='b'?'Deep ALF, learnable Λ, E, V, δ, random δ':'Deep ALF, learnable Λ, E, V, δ, all random'"}},
"stroke":{"field":"s","type":"nominal","scale":{"domain":["r","n","g","p","o","b","k"],"range":["#d62728","#8c564b","#2ca02c","#9467bd","#ff7f0e","#1f77b4","#7f7f7f"]}},
"shape":{"field":"s","type":"nominal","scale":{"domain":["r","n","g","p","o","b","k"],"range":["M-1,0H1M0,-0.18L0.07,0L0,0.18L-0.07,0Z","M-1,0H1M-0.11,-0.11H0.11V0.11H-0.11Z","M-1,0H1M-0.11,-0.11H0.11V0.11H-0.11Z","M-1,0H1M0,-0.13L0.13,0L0,0.13L-0.13,0Z","M-1,0H1M0.12,0A0.12,0.12,0,1,1,-0.12,0A0.12,0.12,0,1,1,0.12,0Z","M-1,0H1M0,-0.13L0.12,0.08L-0.12,0.08Z","M-1,0H1M0,0.13L0.12,-0.08L-0.12,-0.08Z"]}},
"strokeDash":{"field":"s","type":"nominal","scale":{"domain":["r","n","g","p","o","b","k"],"range":[[1,0],[1,0],[8,3.5],[1,0],[1.5,2.5],[9,2.5,1.5,2.5],[5,2,1.5,2]]}}}},
{"mark":{"type":"errorband","opacity":0.2,"clip":true},"encoding":{"yError":{"field":"e"},"color":{"field":"s","type":"nominal","scale":{"domain":["r","n","g","p","o","b","k"],"range":["#d62728","#8c564b","#2ca02c","#9467bd","#ff7f0e","#1f77b4","#7f7f7f"]},"legend":null}}},
{"mark":{"type":"line","strokeWidth":1.8,"clip":true},"encoding":{"color":{"field":"s","type":"nominal","legend":null},"strokeDash":{"field":"s","type":"nominal","legend":null}}},
{"transform":[{"filter":"datum.u%45==0 && datum.u>0 && datum.s=='r'"}],"mark":{"type":"point","filled":true,"opacity":1,"shape":"M0,-1L0.55,0L0,1L-0.55,0Z","size":85,"clip":true},"encoding":{"color":{"field":"s","type":"nominal","legend":null}}},
{"transform":[{"filter":"datum.u%45==0 && datum.u>0 && (datum.s=='n' || datum.s=='g')"}],"mark":{"type":"point","filled":true,"opacity":1,"shape":"square","size":46,"clip":true},"encoding":{"color":{"field":"s","type":"nominal","legend":null}}},
{"transform":[{"filter":"datum.u%45==0 && datum.u>0 && datum.s=='p'"}],"mark":{"type":"point","filled":true,"opacity":1,"shape":"diamond","size":65,"clip":true},"encoding":{"color":{"field":"s","type":"nominal","legend":null}}},
{"transform":[{"filter":"datum.u%45==0 && datum.u>0 && datum.s=='o'"}],"mark":{"type":"point","filled":true,"opacity":1,"shape":"circle","size":52,"clip":true},"encoding":{"color":{"field":"s","type":"nominal","legend":null}}},
{"transform":[{"filter":"datum.u%45==0 && datum.u>0 && datum.s=='b'"}],"mark":{"type":"point","filled":true,"opacity":1,"shape":"triangle-up","size":60,"clip":true},"encoding":{"color":{"field":"s","type":"nominal","legend":null}}},
{"transform":[{"filter":"datum.u%45==0 && datum.u>0 && datum.s=='k'"}],"mark":{"type":"point","filled":true,"opacity":1,"shape":"triangle-down","size":60,"clip":true},"encoding":{"color":{"field":"s","type":"nominal","legend":null}}}
]},
{"width":697,"height":364,
"title":{"text":"(b)","orient":"bottom","frame":"bounds","anchor":"middle","offset":25},
"data":{"name":"d"},
"transform":[{"filter":"datum.u>=357"}],
"encoding":{
"x":{"field":"u","type":"quantitative","scale":{"domain":[357.6,455.8],"nice":false,"zero":false},"axis":{"values":[360,380,400,420,440],"title":"Update","labelFont":"Liberation Serif"}},
"y":{"field":"m","type":"quantitative","scale":{"domain":[0.28,0.601],"nice":false,"zero":false},"axis":{"values":[0.3,0.35,0.4,0.45,0.5,0.55,0.6],"format":".2f","title":"Episodic Reward","labelFont":"Liberation Serif"}}},
"layer":[
{"transform":[{"filter":"false"}],"mark":{"type":"point","filled":true,"opacity":1},"encoding":{
"fill":{"field":"s","type":"nominal","scale":{"domain":["r","n","g","p","o","b","k"],"range":["#d62728","#8c564b","#2ca02c","#9467bd","#ff7f0e","#1f77b4","#7f7f7f"]},"legend":{"orient":"none","legendX":259,"legendY":152,"title":null,"padding":0,"symbolSize":3249,"clipHeight":28,"rowPadding":0,"labelOffset":15,"labelFont":"Liberation Sans","labelFontSize":18,"labelColor":"#222222","labelLimit":0,"symbolStrokeWidth":1.7,"symbolOpacity":1,"labelExpr":"datum.value=='r'?'S5, hidden size = 256':datum.value=='n'?'S5, hidden size = 12':datum.value=='g'?'Deep ALF, learnable Λ, E, V, δ, good init.':datum.value=='p'?'Deep ALF, learnable Λ, E, V, δ, random E':datum.value=='o'?'Deep ALF, learnable Λ, E, V, δ, random Λ':datum.value=='b'?'Deep ALF, learnable Λ, E, V, δ, random δ':'Deep ALF, learnable Λ, E, V, δ, all random'"}},
"stroke":{"field":"s","type":"nominal","scale":{"domain":["r","n","g","p","o","b","k"],"range":["#d62728","#8c564b","#2ca02c","#9467bd","#ff7f0e","#1f77b4","#7f7f7f"]}},
"shape":{"field":"s","type":"nominal","scale":{"domain":["r","n","g","p","o","b","k"],"range":["M-1,0H1M0,-0.18L0.07,0L0,0.18L-0.07,0Z","M-1,0H1M-0.11,-0.11H0.11V0.11H-0.11Z","M-1,0H1M-0.11,-0.11H0.11V0.11H-0.11Z","M-1,0H1M0,-0.13L0.13,0L0,0.13L-0.13,0Z","M-1,0H1M0.12,0A0.12,0.12,0,1,1,-0.12,0A0.12,0.12,0,1,1,0.12,0Z","M-1,0H1M0,-0.13L0.12,0.08L-0.12,0.08Z","M-1,0H1M0,0.13L0.12,-0.08L-0.12,-0.08Z"]}},
"strokeDash":{"field":"s","type":"nominal","scale":{"domain":["r","n","g","p","o","b","k"],"range":[[1,0],[1,0],[8,3.5],[1,0],[1.5,2.5],[9,2.5,1.5,2.5],[5,2,1.5,2]]}}}},
{"mark":{"type":"errorband","opacity":0.2,"clip":true},"encoding":{"yError":{"field":"e"},"color":{"field":"s","type":"nominal","scale":{"domain":["r","n","g","p","o","b","k"],"range":["#d62728","#8c564b","#2ca02c","#9467bd","#ff7f0e","#1f77b4","#7f7f7f"]},"legend":null}}},
{"mark":{"type":"line","strokeWidth":1.8,"clip":true},"encoding":{"color":{"field":"s","type":"nominal","legend":null},"strokeDash":{"field":"s","type":"nominal","legend":null}}},
{"transform":[{"filter":"datum.u%45==0 && datum.u>0 && datum.s=='r'"}],"mark":{"type":"point","filled":true,"opacity":1,"shape":"M0,-1L0.55,0L0,1L-0.55,0Z","size":85,"clip":true},"encoding":{"color":{"field":"s","type":"nominal","legend":null}}},
{"transform":[{"filter":"datum.u%45==0 && datum.u>0 && (datum.s=='n' || datum.s=='g')"}],"mark":{"type":"point","filled":true,"opacity":1,"shape":"square","size":46,"clip":true},"encoding":{"color":{"field":"s","type":"nominal","legend":null}}},
{"transform":[{"filter":"datum.u%45==0 && datum.u>0 && datum.s=='p'"}],"mark":{"type":"point","filled":true,"opacity":1,"shape":"diamond","size":65,"clip":true},"encoding":{"color":{"field":"s","type":"nominal","legend":null}}},
{"transform":[{"filter":"datum.u%45==0 && datum.u>0 && datum.s=='o'"}],"mark":{"type":"point","filled":true,"opacity":1,"shape":"circle","size":52,"clip":true},"encoding":{"color":{"field":"s","type":"nominal","legend":null}}},
{"transform":[{"filter":"datum.u%45==0 && datum.u>0 && datum.s=='b'"}],"mark":{"type":"point","filled":true,"opacity":1,"shape":"triangle-up","size":60,"clip":true},"encoding":{"color":{"field":"s","type":"nominal","legend":null}}},
{"transform":[{"filter":"datum.u%45==0 && datum.u>0 && datum.s=='k'"}],"mark":{"type":"point","filled":true,"opacity":1,"shape":"triangle-down","size":60,"clip":true},"encoding":{"color":{"field":"s","type":"nominal","legend":null}}}
]}
]}
]
}
